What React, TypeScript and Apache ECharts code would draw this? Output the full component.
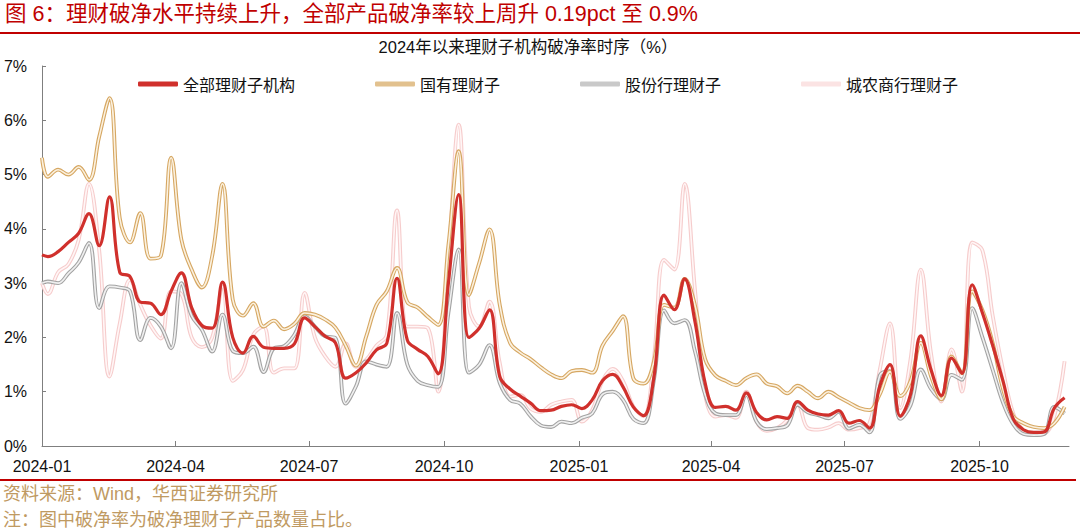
import React, { useEffect, useRef } from "react";
import * as echarts from "echarts";

// Weekly observation dates: year start, then every Friday up to 2025-11-28
const dates: string[] = (() => {
  const out: string[] = ["2024-01-01"];
  let t = Date.UTC(2024, 0, 5);
  for (let i = 0; i < 100; i++) {
    out.push(new Date(t).toISOString().slice(0, 10));
    t += 7 * 86400000;
  }
  return out;
})();

const tickDates = ["2024-01-01", "2024-04-01", "2024-07-01", "2024-10-01", "2025-01-01", "2025-04-01", "2025-07-01", "2025-10-01"];
const tickLabels = ["2024-01", "2024-04", "2024-07", "2024-10", "2025-01", "2025-04", "2025-07", "2025-10"];
const yTicks = [0, 1, 2, 3, 4, 5, 6, 7];

const allInst = [
  3.52, 3.49, 3.58, 3.75, 3.92, 4.28, 3.69, 4.59, 3.20, 3.12,
  2.65, 2.63, 2.42, 2.85, 3.19, 2.55, 2.22, 2.17, 3.02, 2.00,
  1.71, 2.02, 1.82, 1.80, 1.80, 1.88, 2.36, 2.20, 2.02, 1.90,
  1.25, 1.35, 1.53, 1.77, 1.89, 3.09, 1.95, 1.78, 1.65, 1.33,
  3.00, 4.63, 2.00, 2.17, 2.51, 1.28, 1.05, 0.92, 0.79, 0.65,
  0.66, 0.73, 0.76, 0.69, 0.85, 1.20, 1.32, 1.09, 0.72, 0.56,
  1.25, 2.78, 2.51, 3.08, 2.30, 1.16, 0.71, 0.73, 0.66, 0.98,
  0.62, 0.48, 0.54, 0.51, 0.82, 0.66, 0.59, 0.57, 0.65, 0.42,
  0.47, 0.33, 1.10, 1.50, 0.55, 0.95, 2.03, 1.40, 0.93, 1.62,
  1.34, 2.97, 2.45, 1.85, 1.20, 0.50, 0.30, 0.25, 0.26, 0.70,
  0.89,
];

const stateOwned = [
  5.31, 4.96, 5.09, 5.00, 5.14, 4.90, 5.70, 6.41, 4.20, 3.75,
  4.29, 3.45, 3.50, 5.31, 3.80, 3.25, 2.92, 3.50, 4.83, 2.70,
  2.40, 2.63, 2.20, 2.31, 2.15, 2.25, 2.45, 2.42, 2.33, 2.18,
  1.85, 1.48, 2.02, 2.60, 2.85, 3.28, 2.65, 2.55, 2.38, 2.23,
  3.70, 5.43, 2.78, 3.37, 3.99, 2.60, 1.90, 1.72, 1.60, 1.45,
  1.32, 1.25, 1.38, 1.40, 1.35, 1.85, 2.12, 2.39, 1.25, 1.15,
  1.55, 2.60, 2.55, 3.08, 2.60, 1.60, 1.30, 1.20, 1.12, 1.25,
  1.32, 1.15, 1.10, 0.97, 1.11, 1.00, 0.88, 1.00, 0.90, 0.80,
  0.70, 0.66, 0.95, 1.37, 0.92, 1.20, 1.90, 1.28, 0.86, 1.65,
  1.34, 2.85, 2.50, 1.90, 1.05, 0.55, 0.42, 0.35, 0.33, 0.42,
  0.72,
];

const jointStock = [
  3.00, 3.03, 3.00, 3.18, 3.38, 3.74, 2.54, 2.94, 2.92, 2.85,
  1.95, 2.36, 2.20, 1.80, 3.00, 2.40, 2.14, 1.74, 2.42, 1.75,
  1.71, 1.83, 1.36, 1.80, 1.84, 2.05, 2.39, 2.20, 2.02, 1.99,
  0.78, 1.10, 1.56, 1.50, 1.46, 2.45, 1.50, 1.20, 1.12, 1.09,
  2.45, 3.62, 1.35, 1.50, 1.86, 1.16, 0.85, 0.78, 0.55, 0.38,
  0.35, 0.45, 0.42, 0.52, 0.60, 0.95, 1.00, 0.85, 0.50, 0.42,
  1.20, 2.50, 2.26, 2.32, 1.75, 0.95, 0.60, 0.57, 0.57, 0.94,
  0.45, 0.31, 0.33, 0.38, 0.76, 0.62, 0.57, 0.51, 0.63, 0.32,
  0.39, 0.25, 1.30, 1.38, 0.50, 0.75, 1.41, 1.05, 0.86, 1.31,
  1.22, 2.54, 2.00, 1.40, 0.80, 0.40, 0.22, 0.20, 0.22, 0.72,
  0.60,
];

const ruralCity = [
  3.00, 2.80, 3.20, 3.35, 3.80, 4.83, 3.60, 1.28, 2.26, 3.06,
  2.60, 2.22, 1.98, 2.85, 2.80, 2.00, 1.82, 2.00, 2.94, 1.20,
  1.40, 2.05, 2.20, 1.35, 1.43, 1.43, 2.82, 2.00, 1.65, 1.46,
  1.89, 1.46, 1.59, 1.85, 2.05, 4.34, 2.20, 2.20, 2.17, 1.00,
  3.40, 5.92, 2.57, 2.20, 2.66, 1.53, 0.91, 0.94, 0.69, 0.63,
  0.76, 0.82, 0.85, 0.45, 0.66, 1.20, 1.42, 1.20, 0.73, 0.55,
  1.60, 3.43, 3.25, 4.83, 2.90, 0.95, 0.54, 0.57, 0.52, 1.00,
  0.45, 0.28, 0.33, 0.48, 0.76, 0.33, 0.30, 0.34, 0.42, 0.30,
  0.33, 0.42, 1.40, 2.26, 0.70, 1.60, 3.25, 1.70, 0.82, 1.78,
  1.00, 3.75, 3.60, 2.40, 1.40, 0.60, 0.28, 0.20, 0.22, 0.55,
  1.56,
];

const seriesNames = ["全部理财子机构", "国有理财子", "股份行理财子", "城农商行理财子"];

const FONT = "'Liberation Sans', 'Noto Sans CJK SC', sans-serif";

export default function App() {
  const ref = useRef<HTMLDivElement | null>(null);

  useEffect(() => {
    if (!ref.current) return;
    const chart = echarts.init(ref.current, undefined, { renderer: "svg" });
    const ts = dates.map((d) => Date.parse(d));
    const pairs = (vals: number[]) => ts.map((t, i) => [t, vals[i]]);
    const tickTs = tickDates.map((d) => Date.parse(d));

    const hollow = (name: string, vals: number[], outer: string, inner: string, z: number) => [
      {
        name,
        type: "line",
        data: pairs(vals),
        smooth: 0.4,
        symbol: "none",
        lineStyle: { color: outer, width: 3.8 },
        itemStyle: { color: outer },
        z,
      },
      {
        name: name + "_inner",
        type: "line",
        data: pairs(vals),
        smooth: 0.4,
        symbol: "none",
        silent: true,
        lineStyle: { color: inner, width: 1.6 },
        itemStyle: { color: inner },
        z: z + 0.1,
      },
    ];

    chart.setOption({
      animation: false,
      backgroundColor: "#ffffff",
      textStyle: { fontFamily: FONT },
      grid: { left: 42, right: 11, top: 66, bottom: 84, containLabel: false },
      legend: {
        data: [
          { name: seriesNames[0], itemStyle: { color: "#D0302C" } },
          { name: seriesNames[1], itemStyle: { color: "#E2C18E" } },
          { name: seriesNames[2], itemStyle: { color: "#C9C9C9" } },
          { name: seriesNames[3], itemStyle: { color: "#FBE3E3" } },
        ],
        left: 133,
        top: 71,
        icon: "roundRect",
        itemWidth: 40,
        itemHeight: 5,
        itemGap: 80,
        textStyle: { fontSize: 16, color: "#111", fontFamily: "'Noto Sans CJK SC', sans-serif" },
      },
      xAxis: {
        type: "value",
        min: Date.parse("2024-01-01"),
        max: Date.parse("2025-12-01"),
        splitLine: { show: false },
        axisLine: { show: true, onZero: false, lineStyle: { color: "#7F7F7F", width: 1 } },
        axisTick: { show: true, inside: true, length: 5, customValues: tickTs, lineStyle: { color: "#7F7F7F" } },
        axisLabel: {
          customValues: tickTs,
          formatter: (v: number) => {
            const idx = tickTs.indexOf(v);
            return idx >= 0 ? tickLabels[idx] : "";
          },
          fontSize: 16,
          color: "#111",
          margin: 12,
          fontFamily: FONT,
          showMinLabel: true,
          showMaxLabel: true,
          hideOverlap: false,
        },
      },
      yAxis: {
        type: "value",
        min: yTicks[0],
        max: yTicks[yTicks.length - 1],
        interval: 1,
        splitLine: { show: false },
        axisLine: { show: true, lineStyle: { color: "#7F7F7F", width: 1 } },
        axisTick: { show: true, inside: true, length: 4, lineStyle: { color: "#7F7F7F" } },
        axisLabel: { formatter: "{value}%", fontSize: 16, color: "#111", margin: 15, fontFamily: FONT },
      },
      series: [
        ...hollow(seriesNames[3], ruralCity, "#F6CCCC", "#FFF6F6", 2),
        ...hollow(seriesNames[2], jointStock, "#A3A3A3", "#F0F0F0", 3),
        ...hollow(seriesNames[1], stateOwned, "#D6A762", "#FBF1DF", 4),
        {
          name: seriesNames[0],
          type: "line",
          data: pairs(allInst),
          smooth: 0.4,
          symbol: "none",
          lineStyle: { color: "#D0302C", width: 3.2 },
          itemStyle: { color: "#D0302C" },
          z: 6,
        },
      ],
      graphic: [
        {
          type: "text",
          left: 5,
          top: 3,
          style: {
            text: "图 6：理财破净水平持续上升，全部产品破净率较上周升 0.19pct 至 0.9%",
            fontSize: 21.5,
            fill: "#C00000",
            fontFamily: FONT,
          },
        },
        {
          type: "line",
          shape: { x1: 0, y1: 33, x2: 1080, y2: 33 },
          style: { stroke: "#C00000", lineWidth: 2 },
        },
        {
          type: "text",
          x: 528,
          y: 47,
          style: {
            text: "2024年以来理财子机构破净率时序（%）",
            fontSize: 16.5,
            fill: "#111",
            align: "center",
            verticalAlign: "middle",
            fontFamily: FONT,
          },
        },
        {
          type: "line",
          shape: { x1: 0, y1: 480, x2: 1076, y2: 480 },
          style: { stroke: "#C00000", lineWidth: 2 },
        },
        {
          type: "text",
          x: 3,
          y: 494,
          style: {
            text: "资料来源：Wind，华西证券研究所",
            fontSize: 18,
            fill: "#BF9A62",
            verticalAlign: "middle",
            fontFamily: FONT,
          },
        },
        {
          type: "text",
          x: 3,
          y: 520,
          style: {
            text: "注：图中破净率为破净理财子产品数量占比。",
            fontSize: 18,
            fill: "#BF9A62",
            verticalAlign: "middle",
            fontFamily: FONT,
          },
        },
      ],
    });

    return () => chart.dispose();
  }, []);

  return (
    <div
      ref={ref}
      style={{ position: "absolute", left: 0, top: 0, width: 1080, height: 530, background: "#fff" }}
    />
  );
}
